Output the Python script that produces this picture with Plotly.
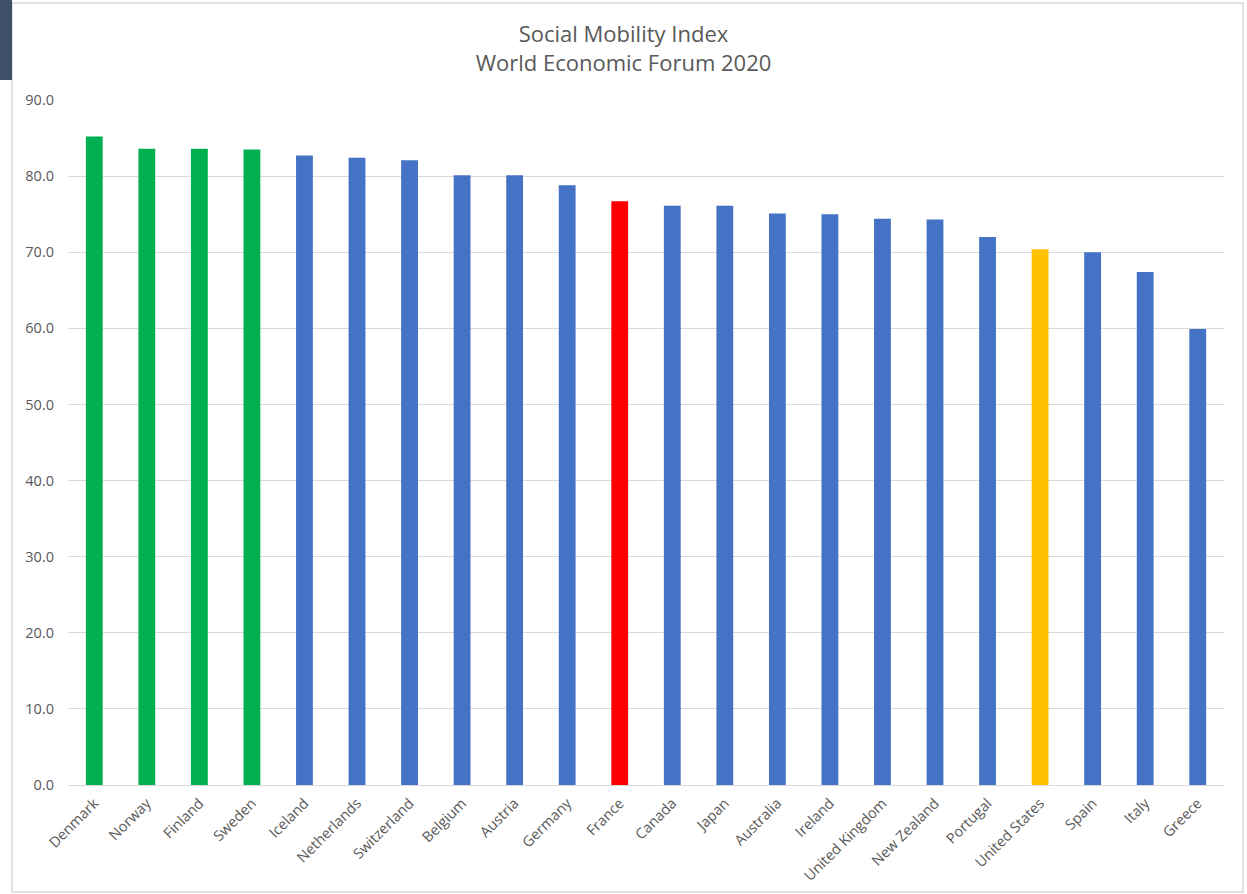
import plotly.graph_objects as go

countries = ["Denmark", "Norway", "Finland", "Sweden", "Iceland", "Netherlands",
             "Switzerland", "Belgium", "Austria", "Germany", "France", "Canada",
             "Japan", "Australia", "Ireland", "United Kingdom", "New Zealand",
             "Portugal", "United States", "Spain", "Italy", "Greece"]
scores = [85.2, 83.6, 83.6, 83.5, 82.7, 82.4, 82.1, 80.1, 80.1, 78.8, 76.7, 76.1,
          76.1, 75.1, 75.0, 74.4, 74.3, 72.0, 70.4, 70.0, 67.4, 59.9]
groups = ["nordic"] * 4 + ["other"] * 6 + ["france"] + ["other"] * 7 + ["us"] + ["other"] * 3
group_colors = {"nordic": "#00B050", "other": "#4472C4", "france": "#FF0000", "us": "#FFC000"}
tick_vals = [0, 10, 20, 30, 40, 50, 60, 70, 80, 90]
tick_text = ["%.1f" % v for v in tick_vals]

colors = [group_colors[g] for g in groups]

fig = go.Figure(go.Bar(
    x=countries, y=scores, marker_color=colors,
    marker_line_width=0, width=0.32,
))

W, H = 1247, 894
L, R, T, B = 68, 23, 100, 109
pw, ph = W - L - R, H - T - B

def px(x):
    return (x - L) / pw

def py(y):
    return (H - B - y) / ph

fig.update_layout(
    width=W, height=H,
    margin=dict(l=L, r=R, t=T, b=B, autoexpand=False),
    paper_bgcolor="white", plot_bgcolor="white",
    font=dict(family="Open Sans, sans-serif", color="#595959", size=14),
    title=dict(text="Social Mobility Index<br>World Economic Forum 2020",
               x=0.5, xanchor="center", y=1 - 42 / H, yanchor="middle",
               font=dict(size=22, color="#595959")),
    showlegend=False,
    bargap=0.68,
    xaxis=dict(tickangle=-45, showgrid=False, showline=False, ticks="",
               ticklabelstandoff=6, automargin=False,
               tickfont=dict(size=14.5, color="#595959")),
    yaxis=dict(range=[0, 90], tickvals=tick_vals, ticktext=tick_text,
               showgrid=True, gridcolor="#D9D9D9", gridwidth=1,
               zeroline=True, zerolinecolor="#D9D9D9", zerolinewidth=1,
               showline=False, ticks="", ticklabelstandoff=13, automargin=False,
               tickfont=dict(size=14.5, color="#595959")),
    shapes=[
        dict(type="rect", xref="paper", yref="paper",
             x0=px(12), x1=px(1243), y0=py(892), y1=py(3),
             line=dict(color="#D9D9D9", width=1.5), fillcolor="rgba(0,0,0,0)", layer="below"),
        dict(type="rect", xref="paper", yref="paper",
             x0=px(0), x1=px(12), y0=py(80), y1=py(0),
             line=dict(width=0), fillcolor="#3F4F68"),
    ],
)

fig.write_html("out.html", config={"displayModeBar": False},
               post_script="document.body.style.margin='0';")
